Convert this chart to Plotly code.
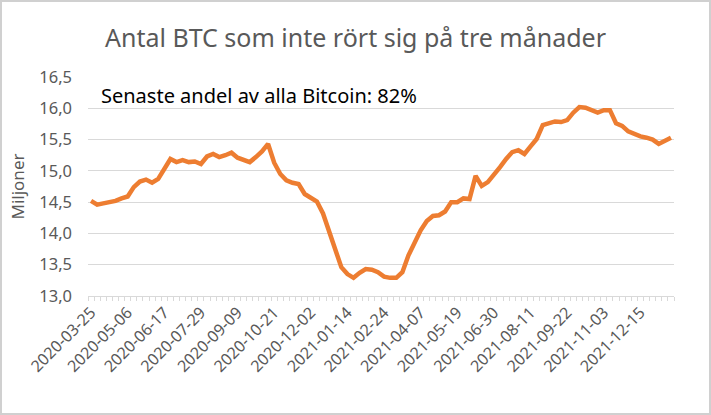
import plotly.graph_objects as go

# weekly values, millions of BTC unmoved for 3 months
values = [
    14.52, 14.46, 14.48, 14.50, 14.52, 14.56, 14.59, 14.74, 14.83, 14.86,
    14.81, 14.87, 15.03, 15.19, 15.14, 15.17, 15.14, 15.15, 15.11, 15.23,
    15.27, 15.22, 15.25, 15.29, 15.21, 15.17, 15.14, 15.22, 15.31, 15.43,
    15.13, 14.95, 14.85, 14.81, 14.79, 14.63, 14.58, 14.51, 14.32, 14.04,
    13.76, 13.46, 13.35, 13.29, 13.37, 13.43, 13.42, 13.38, 13.31, 13.29,
    13.29, 13.38, 13.65, 13.86, 14.05, 14.20, 14.28, 14.29, 14.35, 14.50,
    14.50, 14.56, 14.55, 14.92, 14.76, 14.82, 14.93, 15.06, 15.19, 15.30,
    15.33, 15.27, 15.39, 15.51, 15.73, 15.76, 15.79, 15.78, 15.81, 15.93,
    16.02, 16.01, 15.96, 15.93, 15.97, 15.97, 15.76, 15.72, 15.63, 15.59,
    15.55, 15.53, 15.50, 15.43, 15.48, 15.53,
]

# category labels shown every 6th week
tick_labels = [
    "2020-03-25", "2020-05-06", "2020-06-17", "2020-07-29", "2020-09-09",
    "2020-10-21", "2020-12-02", "2021-01-14", "2021-02-24", "2021-04-07",
    "2021-05-19", "2021-06-30", "2021-08-11", "2021-09-22", "2021-11-03",
    "2021-12-15",
]
label_step = 6

title = "Antal BTC som inte rört sig på tre månader"
note = "Senaste andel av alla Bitcoin: 82%"

x = list(range(len(values)))
tickvals = [i * label_step for i in range(len(tick_labels))]

FONT = "Noto Sans"
GREY = "#595959"
GRID = "#d9d9d9"

fig = go.Figure(go.Scatter(
    x=x, y=values, mode="lines",
    line=dict(color="#ED7D31", width=4.5),
    hoverinfo="skip",
))

fig.update_layout(
    width=711, height=415,
    margin=dict(l=88, r=37, t=77, b=119),
    paper_bgcolor="white", plot_bgcolor="white",
    separators=", ",
    showlegend=False,
    font=dict(family=FONT, color=GREY),
    title=dict(text=title, x=0.5, xanchor="center", y=1 - 38 / 415,
               yanchor="middle", font=dict(size=25, color=GREY, family=FONT)),
)

fig.update_xaxes(
    range=[-0.5, len(values) - 0.5],
    tickmode="array", tickvals=tickvals, ticktext=tick_labels,
    tickangle=-45, tickfont=dict(size=16, color=GREY),
    ticks="", showgrid=False, zeroline=False,
    showline=True, linecolor=GRID, linewidth=1,
    minor=dict(ticks="outside", tickmode="linear", tick0=-0.5, dtick=1,
               ticklen=4, tickcolor=GRID, tickwidth=1, showgrid=False),
)

fig.update_yaxes(
    range=[13, 16.5], dtick=0.5, tickformat=".1f",
    tickfont=dict(size=16.5, color=GREY),
    showgrid=True, gridcolor=GRID, gridwidth=1,
    zeroline=False, showline=False, ticks="", ticklabelstandoff=15,
    title=dict(text="Miljoner", font=dict(size=17, color=GREY), standoff=10),
)

fig.add_annotation(
    text=note, xref="paper", yref="paper", x=(99 - 88) / 586,
    y=(296 - 95) / 219, xanchor="left", yanchor="middle",
    showarrow=False, font=dict(size=20, color="black", family=FONT),
)

# light chart-area border like the spreadsheet export
fig.add_shape(
    type="rect", xref="paper", yref="paper",
    x0=(1 - 88) / 586, x1=(710 - 88) / 586,
    y0=(296 - 414) / 219, y1=(296 - 1) / 219,
    line=dict(color="#d0d0d0", width=2), fillcolor="rgba(0,0,0,0)",
    layer="above",
)

fig.write_html("out.html", config={"displayModeBar": False},
               post_script="document.body.style.margin='0';")
